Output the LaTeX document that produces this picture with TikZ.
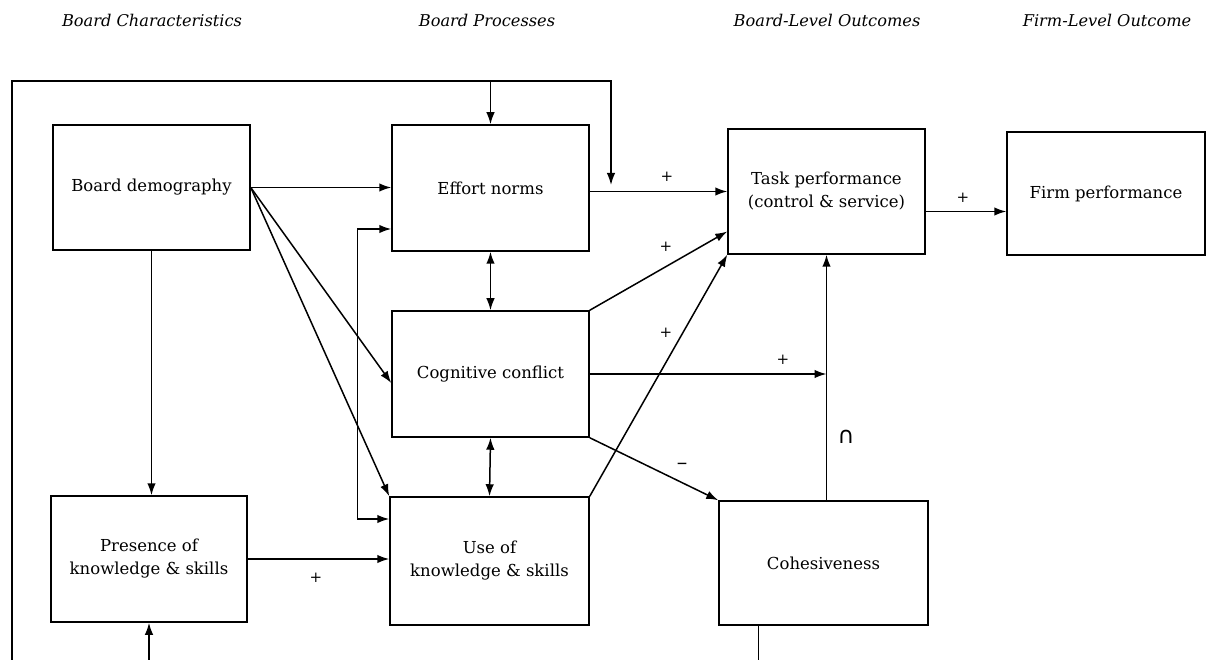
\documentclass[tikz,border=0pt]{standalone}
\usepackage{fontspec}
\setmainfont{DejaVu Serif}
\newfontfamily\symfnt{DejaVu Sans}
\usetikzlibrary{arrows.meta}
\begin{document}
\begin{tikzpicture}[x=1pt,y=-1pt,
  box/.style={draw, line width=1.5pt, inner sep=0pt, align=center, font=\fontsize{16.5}{23}\selectfont},
  arr/.style={-{Latex[length=12pt,width=8.5pt]}, line width=1.5pt},
  darr/.style={{Latex[length=12pt,width=8.5pt]}-{Latex[length=12pt,width=8.5pt]}, line width=1.5pt},
  ln/.style={line width=1.5pt},
  hdr/.style={font=\itshape\fontsize{16.2}{20}\selectfont, anchor=base},
  lab/.style={font=\fontsize{15}{16}\selectfont, inner sep=0pt}
]
\useasboundingbox (0,0) rectangle (1207,660);

% headers
\node[hdr] (h1) at (152,27) {Board Characteristics};
\node[hdr] (h2) at (487,27) {Board Processes};
\node[hdr] (h3) at (827,27) {Board-Level Outcomes};
\node[hdr] (h4) at (1107,27) {Firm-Level Outcome};

% boxes
\node[box, minimum width=197pt, minimum height=125pt] (dem) at (151.5,187.5) {Board demography};
\node[box, minimum width=197pt, minimum height=126pt] (eff) at (490.5,188) {Effort norms};
\node[box, minimum width=197pt, minimum height=126pt] (cog) at (490.5,374) {Cognitive conflict};
\node[box, minimum width=199pt, minimum height=128pt] (use) at (489.5,561) {Use of\\knowledge \& skills};
\node[box, minimum width=196pt, minimum height=126pt] (pres) at (149,559) {Presence of\\knowledge \& skills};
\node[box, minimum width=197pt, minimum height=125pt] (task) at (826.5,191.5) {Task performance\\(control \& service)};
\node[box, minimum width=198pt, minimum height=123pt] (firm) at (1106,193.5) {Firm performance};
\node[box, minimum width=209pt, minimum height=124pt] (coh) at (823.5,563) {Cohesiveness};

% outer loop
\coordinate (lb) at (12,660);
\coordinate (ltr) at (611,81);
\coordinate (ltip) at (611,185);
\draw[arr] (lb) |- (ltr) -- (ltip);
\draw[arr] (eff.north |- ltr) -- (eff.north);

% from board demography
\draw[arr] (dem.east) -- (dem.east -| eff.west);
\draw[arr] (dem.east) -- ([yshift=-9pt]cog.west);
\draw[arr] (dem.east) -- (use.north west);
\draw[arr] (dem.south) -- (dem.south |- pres.north);

% presence
\draw[arr] (pres.east) -- (pres.east -| use.west);
\draw[arr] (pres.south |- lb) -- (pres.south);

% feedback between effort and use
\draw[darr] ([yshift=-41pt]eff.west) -| ([xshift=-32pt,yshift=42pt]use.west) -- ([yshift=42pt]use.west);

% vertical double arrows
\draw[darr] (eff.south) -- (cog.north);
\draw[darr] (cog.south) -- (use.north);

% to task performance
\draw[arr] (eff.east |- task.west) -- (task.west);
\draw[arr] (cog.north east) -- ([yshift=-40pt]task.west);
\draw[arr] (use.north east) -- (task.south west);
\draw[arr] (task.south |- coh.north) -- (task.south);
\draw[arr] (cog.east) -- (cog.east -| task.south);
\draw[arr] (cog.south east) -- (coh.north west);
\draw[ln] ([xshift=40pt]coh.south west) -- ([xshift=40pt]coh.south west |- lb);

% to firm
\draw[arr] ([yshift=-20pt]task.east) -- ([yshift=-20pt]task.east -| firm.west);

% labels
\node[lab] (p1) at (667,177) {+};
\node[lab] (p2) at (666,247) {+};
\node[lab] (p3) at (666,333) {+};
\node[lab] (p4) at (783,360) {+};
\node[lab] (p5) at (316,578) {+};
\node[lab] (p6) at (963,198) {+};
\node[lab, font=\fontsize{21}{21}\selectfont] (m1) at (682,466) {–};
\node[font=\symfnt\fontsize{23}{24}\selectfont, inner sep=0pt] (cap) at (846,437) {∩};
\end{tikzpicture}
\end{document}
